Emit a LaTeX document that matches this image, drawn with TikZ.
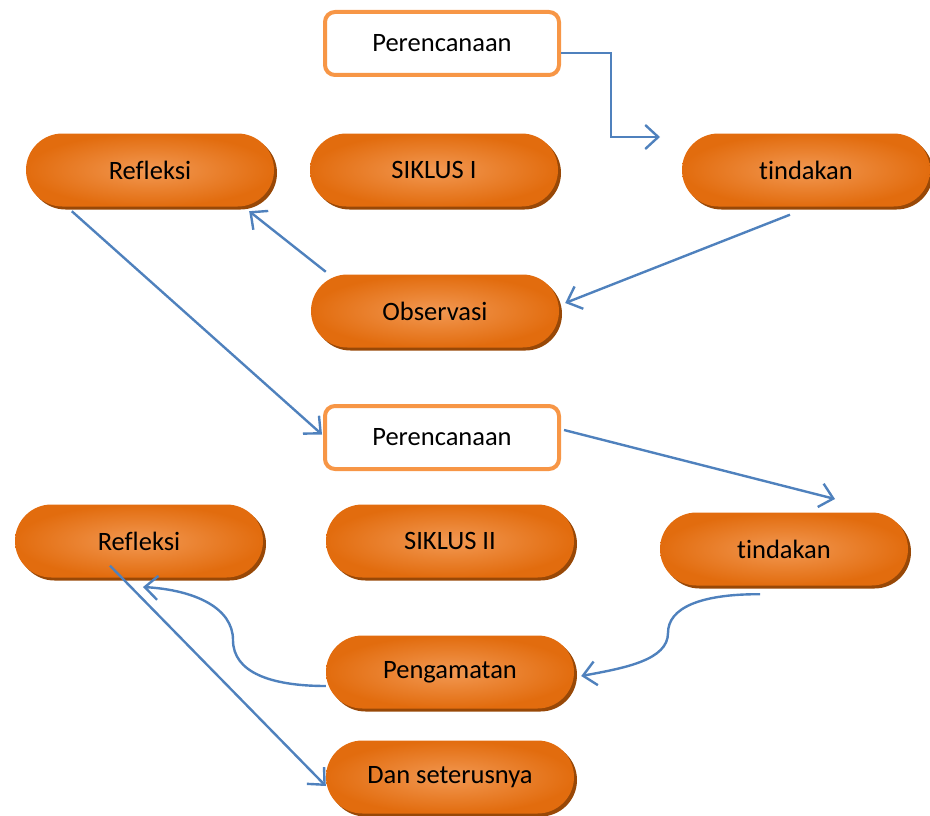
\documentclass[tikz,border=0pt]{standalone}
\usepackage{fontspec}
\setmainfont{Carlito}[Ligatures={NoCommon}]
\usetikzlibrary{shadows,calc,arrows.meta}
\definecolor{pillout}{RGB}{226,108,14}
\definecolor{pillin}{RGB}{242,152,82}
\definecolor{pillshadow}{RGB}{152,72,7}
\definecolor{boxline}{RGB}{247,150,70}
\definecolor{conn}{RGB}{79,129,189}
\tikzset{
  pill/.style={rectangle, rounded corners=36.5pt, minimum width=248pt, minimum height=73pt,
    inner color=pillin, outer color=pillout,
    general shadow={fill=pillshadow, shadow xshift=3pt, shadow yshift=-3pt},
    font=\fontsize{26.5}{30}\selectfont, text=black},
  planbox/.style={rectangle, rounded corners=10pt, draw=boxline, line width=4pt, fill=white,
    minimum width=234pt, minimum height=63pt, font=\fontsize{26.5}{30}\selectfont},
  conn/.style={draw=conn, line width=2.4pt, -{Straight Barb[length=13pt,width=24pt]}}
}
\begin{document}
\begin{tikzpicture}[x=1pt,y=-1pt]
\useasboundingbox (0,0) rectangle (930,816);
\node[planbox] (p1) at (442,43.5) {Perencanaan};
\node[pill] (r1) at (150,170) {Refleksi};
\node[pill] (s1) at (434,170) {SIKLUS I};
\node[pill] (t1) at (806,170) {tindakan};
\node[pill] (obs) at (435,311) {Observasi};
\node[planbox] (p2) at (442,437.5) {Perencanaan};
\node[pill] (r2) at (139,541) {Refleksi};
\node[pill] (s2) at (450,541) {SIKLUS II};
\node[pill] (t2) at (784,549) {tindakan};
\node[pill] (peng) at (450,672) {Pengamatan};
\node[pill] (dan) at (450,777) {Dan seterusnya};
\coordinate (a1) at (660,137);
\coordinate (a5) at (835,499);
\coordinate (a7) at (143,587);
% connectors
\draw[conn] ($(p1.east)+(0,9.5)$) -- ++(50,0) |- (a1);
\draw[conn] ($(t1.south)+(-16,8)$) -- ($(obs.east)+(6,-8)$);
\draw[conn] ($(obs.north west)+(15,-2.5)$) -- ($(r1.south east)+(-25,4.5)$);
\draw[conn] ($(r1.south west)+(46,4.5)$) -- ($(p2.west)+(-1,-3)$);
\draw[conn] ($(p2.east)+(3,-7.5)$) -- (a5);
\draw[conn] ($(t2.south)+(-24,8.5)$) .. controls (700,594) and (668,608) .. (668,633)
   .. controls (668,660) and (625,668) .. ($(peng.east)+(7,4)$);
\draw[conn] ($(peng.west)+(0,14)$) .. controls (270,686) and (233,672) .. (233,640)
   .. controls (233,608) and (195,590) .. (a7);
\draw[conn] ($(r2.south)+(-29,-12)$) -- ($(dan.west)+(0,9)$);
\end{tikzpicture}
\end{document}
